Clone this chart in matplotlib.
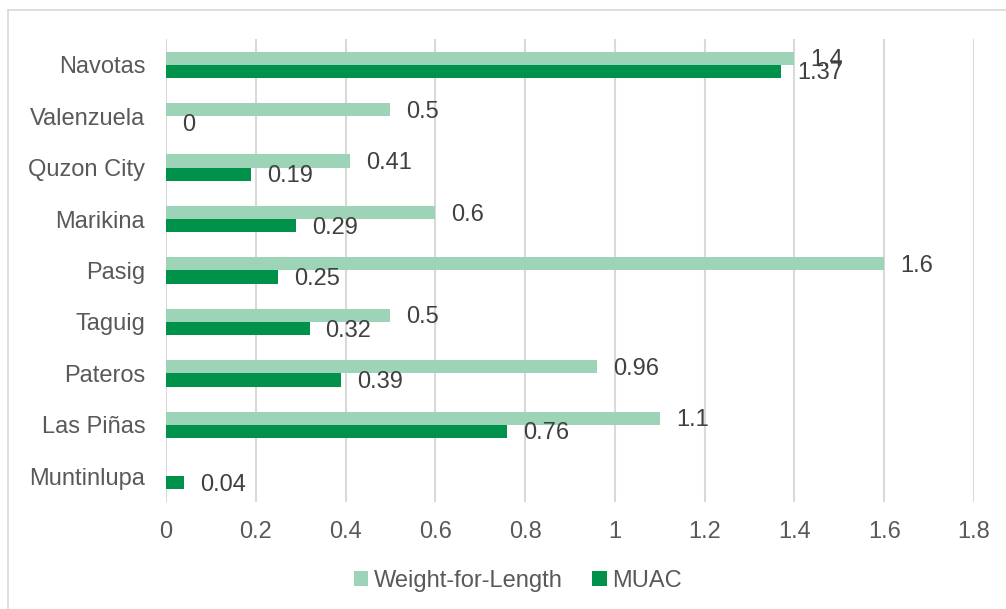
import numpy as np
import matplotlib.pyplot as plt
from matplotlib.lines import Line2D

cities = ["Navotas", "Valenzuela", "Quzon City", "Marikina", "Pasig",
          "Taguig", "Pateros", "Las Piñas", "Muntinlupa"]
wfl = [1.4, 0.5, 0.41, 0.6, 1.6, 0.5, 0.96, 1.1, np.nan]
muac = [1.37, 0, 0.19, 0.29, 0.25, 0.32, 0.39, 0.76, 0.04]

light = "#9dd4b7"
dark = "#00924a"
grid_c = "#d9d9d9"
fs = 17

plt.rcParams["font.family"] = ["Liberation Sans", "DejaVu Sans"]

W, H = 1006, 609
fig = plt.figure(figsize=(W / 100, H / 100), dpi=100)
ax = fig.add_axes([166 / W, 1 - 502 / H, (974 - 166) / W, (502 - 39) / H])

y = np.arange(len(cities))
h = 0.255
ax.barh(y - h / 2, wfl, height=h, color=light, label="Weight-for-Length", zorder=3)
ax.barh(y + h / 2, muac, height=h, color=dark, label="MUAC", zorder=3)

# value labels just right of each bar end
for i in range(len(cities)):
    if not np.isnan(wfl[i]):
        ax.annotate(f"{wfl[i]:g}", (wfl[i], y[i] - h / 2), xytext=(11.5, -1.5),
                    textcoords="offset points", va="center", ha="left",
                    fontsize=fs, color="#404040")
    ax.annotate(f"{muac[i]:g}", (muac[i], y[i] + h / 2), xytext=(11.5, -1.5),
                textcoords="offset points", va="center", ha="left",
                fontsize=fs, color="#404040")

ax.set_xlim(0, 1.8)
ax.set_ylim(len(cities) - 0.5, -0.5)
ax.set_xticks(np.arange(0, 1.81, 0.2))
ax.set_xticklabels([f"{v:g}" for v in np.arange(0, 1.81, 0.2).round(1)])
ax.set_yticks(y)
ax.set_yticklabels(cities)
ax.tick_params(axis="both", length=0, labelsize=fs, colors="#595959")
ax.tick_params(axis="y", pad=15)
ax.tick_params(axis="x", pad=14)
ax.grid(axis="x", color=grid_c, linewidth=1.5, zorder=0)
for s in ax.spines.values():
    s.set_visible(False)

fig.legend(loc="center", bbox_to_anchor=(518 / W, 1 - 581 / H), ncol=2,
           frameon=False, fontsize=fs, labelcolor="#595959",
           handlelength=0.6, handleheight=0.6, handletextpad=0.25,
           columnspacing=1.25)

# chart-area frame (top and left edges fall inside the image)
fig.add_artist(Line2D([8 / W, 1], [1 - 10 / H, 1 - 10 / H],
                      transform=fig.transFigure, color=grid_c, linewidth=1.2))
fig.add_artist(Line2D([8 / W, 8 / W], [0, 1 - 10 / H],
                      transform=fig.transFigure, color=grid_c, linewidth=1.2))

fig.savefig("out.png", dpi=100)
